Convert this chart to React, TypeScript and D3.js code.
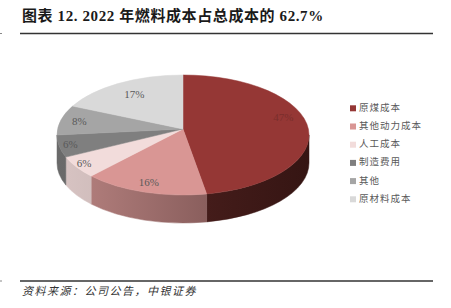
import React from "react";
import * as d3 from "d3";

const categories = ["原煤成本", "其他动力成本", "人工成本", "制造费用", "其他", "原材料成本"];
const values = [47, 16, 6, 6, 8, 17];
const labels = ["47%", "16%", "6%", "6%", "8%", "17%"];
const topColors = ["#953735", "#d99694", "#f2dcdb", "#7f7f7f", "#a5a5a5", "#d9d9d9"];
const sideLight = ["#5a2624", "#b98482", "#d8c4c3", "#6a6a6a", "#8c8c8c", "#b8b8b8"];
const sideDark = ["#351513", "#6a4544", "#a89898", "#4a4a4a", "#6a6a6a", "#8f8f8f"];
const labelR = [0.8, 0.88, 0.93, 0.91, 0.85, 0.76];
const labelColors = ["#7a2e2c", "#595959", "#595959", "#595959", "#595959", "#595959"];

const W = 451, H = 308;
const cx = 183, cy = 135, rx = 126, ry = 60, depth = 28;
const vx = 183, vy = 129;

function pt(t: number, dy = 0): [number, number] {
  return [cx + rx * Math.sin(t), cy - ry * Math.cos(t) + dy];
}

export default function App() {
  const arcs = d3.pie<number>().sort(null)(values);
  const serif = "'Liberation Serif','Noto Sans CJK SC',serif";
  const cjk = "'Noto Sans CJK SC',sans-serif";
  const xs = d3.scaleLinear().domain([0, 1]).range([cx - rx, cx + rx]);

  return (
    <svg width={W} height={H} style={{ position: "absolute", left: 0, top: 0, background: "#fff" }}>
      <defs>
        {arcs.map((a, i) => (
          <linearGradient key={i} id={`g${i}`} gradientUnits="userSpaceOnUse" x1={xs(0)} x2={xs(1)} y1={0} y2={0}>
            <stop offset="0" stopColor={sideLight[i]} />
            <stop offset="1" stopColor={sideDark[i]} />
          </linearGradient>
        ))}
      </defs>
      <text x={22} y={20.5} fontFamily={serif} fontWeight="bold" fontSize={15} letterSpacing={0.6} fill="#1a1a1a">
        图表 12. 2022 年燃料成本占总成本的 62.7%
      </text>
      <line x1={20} x2={433} y1={33.5} y2={33.5} stroke="#333" strokeWidth={1.3} />
      <line x1={0} x2={2} y1={33.5} y2={33.5} stroke="#888" strokeWidth={1} />
      {/* sides */}
      {arcs.map((a, i) => {
        const s = Math.max(a.startAngle, Math.PI / 2);
        const e = Math.min(a.endAngle, (3 * Math.PI) / 2);
        if (s >= e) return null;
        const p1 = pt(s), p2 = pt(e), p3 = pt(e, depth), p4 = pt(s, depth);
        const large = e - s > Math.PI ? 1 : 0;
        const d = `M${p1[0]},${p1[1]} A${rx},${ry} 0 ${large} 1 ${p2[0]},${p2[1]} L${p3[0]},${p3[1]} A${rx},${ry} 0 ${large} 0 ${p4[0]},${p4[1]} Z`;
        return <path key={`s${i}`} d={d} fill={`url(#g${i})`} stroke={`url(#g${i})`} strokeWidth={0.5} />;
      })}
      {/* tops */}
      {arcs.map((a, i) => {
        const p1 = pt(a.startAngle), p2 = pt(a.endAngle);
        const large = a.endAngle - a.startAngle > Math.PI ? 1 : 0;
        const d = `M${vx},${vy} L${p1[0]},${p1[1]} A${rx},${ry} 0 ${large} 1 ${p2[0]},${p2[1]} Z`;
        return <path key={`t${i}`} d={d} fill={topColors[i]} stroke={topColors[i]} strokeWidth={0.5} />;
      })}
      {arcs.map((a, i) => {
        const m = (a.startAngle + a.endAngle) / 2;
        const x = cx + rx * labelR[i] * Math.sin(m);
        const y = cy - ry * labelR[i] * Math.cos(m) - (i === 0 ? 12 : 0) + (i === 1 ? -2 : 0);
        return (
          <text key={`l${i}`} x={x} y={y} textAnchor="middle" dominantBaseline="middle" fontFamily={serif} fontSize={11} fill={labelColors[i]}>
            {labels[i]}
          </text>
        );
      })}
      {/* legend */}
      {categories.map((c, i) => {
        const y = 108.3 + i * 18.2;
        return (
          <g key={`lg${i}`}>
            <rect x={350} y={y - 3} width={6} height={6} fill={topColors[i]} />
            <text x={359} y={y} dominantBaseline="middle" fontFamily={cjk} fontSize={9.5} letterSpacing={1} fill="#595959">
              {c}
            </text>
          </g>
        );
      })}
      <line x1={20} x2={433} y1={281} y2={281} stroke="#333" strokeWidth={1.3} />
      <line x1={0} x2={2} y1={281} y2={281} stroke="#888" strokeWidth={1} />
      <text x={22} y={295} fontFamily={cjk} fontStyle="italic" fontSize={11} letterSpacing={1.5} fill="#333">
        资料来源：公司公告，中银证券
      </text>
    </svg>
  );
}
